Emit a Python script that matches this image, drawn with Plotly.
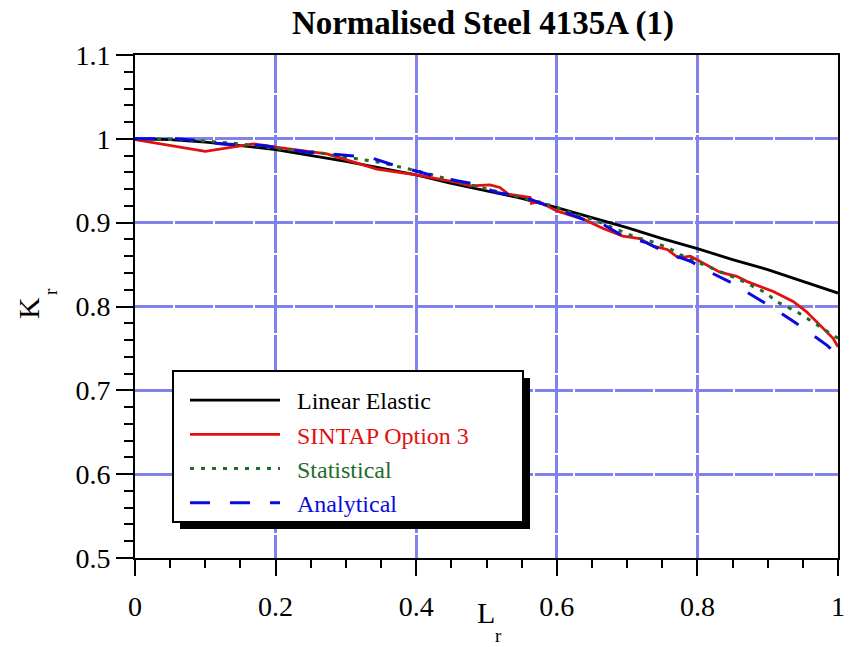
import plotly.graph_objects as go

# ---------------- data ----------------
le_x = [0, 0.05, 0.10, 0.15, 0.20, 0.25, 0.30, 0.35, 0.40, 0.45, 0.50, 0.55,
        0.60, 0.65, 0.70, 0.75, 0.80, 0.85, 0.90, 0.95, 1.00]
le_y = [1.000, 0.999, 0.996, 0.992, 0.987, 0.980, 0.973, 0.965, 0.957, 0.947,
        0.938, 0.929, 0.918, 0.906, 0.894, 0.881, 0.869, 0.856, 0.844, 0.830, 0.816]

sin_x = [0, 0.10, 0.168, 0.20, 0.273, 0.344, 0.40, 0.458, 0.477, 0.505, 0.519,
         0.531, 0.562, 0.564, 0.575, 0.60, 0.638, 0.666, 0.694, 0.718, 0.737,
         0.757, 0.773, 0.79, 0.808, 0.832, 0.856, 0.870, 0.908, 0.936, 0.955,
         0.974, 0.993, 1.0]
sin_y = [0.999, 0.985, 0.994, 0.990, 0.982, 0.964, 0.957, 0.948, 0.944, 0.945,
         0.942, 0.934, 0.930, 0.923, 0.925, 0.914, 0.904, 0.893, 0.884, 0.881,
         0.872, 0.868, 0.858, 0.860, 0.852, 0.841, 0.836, 0.830, 0.818, 0.806,
         0.794, 0.778, 0.762, 0.752]

sta_x = [0, 0.03, 0.09, 0.15, 0.206, 0.258, 0.287, 0.348, 0.41, 0.472, 0.531,
         0.578, 0.595, 0.638, 0.652, 0.685, 0.714, 0.733, 0.759, 0.775, 0.804,
         0.837, 0.865, 0.898, 0.912, 0.941, 0.974, 0.989, 1.0]
sta_y = [1.0, 1.0, 0.998, 0.994, 0.988, 0.984, 0.980, 0.972, 0.960, 0.946, 0.934,
         0.924, 0.920, 0.906, 0.904, 0.892, 0.882, 0.878, 0.870, 0.862, 0.852,
         0.840, 0.830, 0.816, 0.806, 0.794, 0.776, 0.768, 0.762]

ana_x = [0, 0.04, 0.059, 0.092, 0.121, 0.183, 0.245, 0.277, 0.301, 0.334, 0.363,
         0.40, 0.424, 0.458, 0.484, 0.514, 0.543, 0.562, 0.60, 0.638, 0.666, 0.69,
         0.728, 0.756, 0.79, 0.818, 0.849, 0.865, 0.879, 0.91, 0.939, 0.97, 0.984, 1.0]
ana_y = [1.0, 1.0, 1.0, 0.998, 0.994, 0.992, 0.984, 0.982, 0.980, 0.978, 0.970,
         0.962, 0.956, 0.950, 0.946, 0.936, 0.932, 0.928, 0.916, 0.904, 0.898, 0.886,
         0.876, 0.864, 0.854, 0.841, 0.828, 0.820, 0.812, 0.797, 0.781, 0.762, 0.754, 0.742]

x_tickvals = [0, 0.2, 0.4, 0.6, 0.8, 1.0]
x_ticktext = ["0", "0.2", "0.4", "0.6", "0.8", "1"]
y_tickvals = [0.5, 0.6, 0.7, 0.8, 0.9, 1.0, 1.1]
y_ticktext = ["0.5", "0.6", "0.7", "0.8", "0.9", "1", "1.1"]

series_names = ["Linear Elastic", "SINTAP Option 3", "Statistical", "Analytical"]
title_text = "Normalised Steel 4135A (1)"

# ---------------- figure ----------------
FONT = "Liberation Serif"
W, H = 851, 647
L, R, T, B = 135, 13, 55, 89
pw, ph = W - L - R, H - T - B

def px2paper(xp, yp):
    return (xp - L) / pw, (H - B - yp) / ph

RED = "#e31010"
GREEN = "#1e6b2a"
BLUE = "#0a0ae0"

fig = go.Figure()
styles = [
    (le_x, le_y, "black", "solid", 2.8),
    (sin_x, sin_y, RED, "solid", 2.8),
    (sta_x, sta_y, GREEN, "4px,7px", 3),
    (ana_x, ana_y, BLUE, "20px,20px", 3),
]
for (xs, ys, c, d, w), nm in zip(styles, series_names):
    fig.add_trace(go.Scatter(
        x=xs, y=ys, mode="lines",
        line=dict(color=c, dash=d, width=w),
        name=f'<span style="color:{c}">\u2002{nm}</span>',
    ))

# legend box with drop shadow
bx0, by0, bx1, by1 = 173, 371, 523, 522
sx0, sy0 = px2paper(bx0 + 7, by1 + 7)
sx1, sy1 = px2paper(bx1 + 7, by0 + 7)
fig.add_shape(type="rect", xref="paper", yref="paper", x0=sx0, y0=sy0, x1=sx1, y1=sy1,
              fillcolor="black", line=dict(color="black", width=0), layer="above")
qx0, qy0 = px2paper(bx0, by1)
qx1, qy1 = px2paper(bx1, by0)
fig.add_shape(type="rect", xref="paper", yref="paper", x0=qx0, y0=qy0, x1=qx1, y1=qy1,
              fillcolor="white", line=dict(color="black", width=2), layer="above")

lx, ly = px2paper(185, 378)

axis_common = dict(
    showline=True, linecolor="black", linewidth=2, mirror=True,
    ticks="outside", tickcolor="black", tickwidth=2, automargin=False,
    showgrid=True, gridcolor="#8282ec", gridwidth=3, griddash="38px,2px",
    zeroline=False, tickfont=dict(family=FONT, size=28, color="black"),
)
fig.update_xaxes(range=[0, 1], tickmode="array", tickvals=x_tickvals, ticktext=x_ticktext,
                 ticklen=16, ticklabelstandoff=6,
                 minor=dict(dtick=0.05, tick0=0, ticks="outside", ticklen=8,
                            tickwidth=2, tickcolor="black", showgrid=False),
                 **axis_common)
fig.update_yaxes(range=[0.5, 1.1], tickmode="array", tickvals=y_tickvals, ticktext=y_ticktext,
                 ticklen=17,
                 minor=dict(dtick=0.02, tick0=0.5, ticks="outside", ticklen=9,
                            tickwidth=2, tickcolor="black", showgrid=False),
                 **axis_common)

ann = [
    dict(text="L", x=486, y=612, size=30, angle=0),
    dict(text="r", x=498, y=635, size=19, angle=0),
    dict(text="K", x=28, y=308, size=30, angle=-90),
    dict(text="r", x=50, y=292, size=19, angle=-90),
]
for a in ann:
    ax_, ay_ = px2paper(a["x"], a["y"])
    fig.add_annotation(text=a["text"], x=ax_, y=ay_, xref="paper", yref="paper",
                       showarrow=False, textangle=a["angle"], xanchor="center",
                       yanchor="middle", font=dict(family=FONT, size=a["size"], color="black"))

fig.update_layout(
    width=W, height=H,
    margin=dict(l=L, r=R, t=T, b=B),
    paper_bgcolor="white", plot_bgcolor="white",
    title=dict(text=f"<b>{title_text}</b>", x=483 / W, xanchor="center",
               y=1 - 22 / H, yanchor="middle",
               font=dict(family=FONT, size=33, color="black")),
    showlegend=True,
    legend=dict(x=lx, y=ly, xanchor="left", yanchor="top", bgcolor="rgba(0,0,0,0)",
                borderwidth=0, font=dict(family=FONT, size=24, color="black"),
                itemwidth=90, tracegroupgap=0),
)

fig.write_html("out.html")
